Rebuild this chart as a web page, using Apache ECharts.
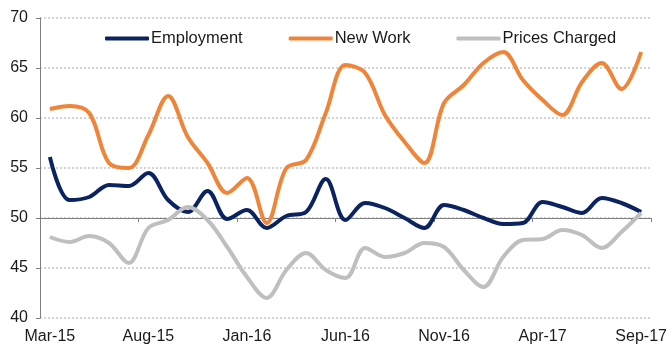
<!DOCTYPE html>
<html>
<head>
<meta charset="utf-8">
<script src="https://cdn.jsdelivr.net/npm/echarts@6/dist/echarts.min.js"></script>
<style>
  html, body { margin: 0; padding: 0; background: #fff; }
  #chart { width: 672px; height: 351px; }
</style>
</head>
<body>
<div id="chart"></div>
<script>
// monthly, Mar-15 .. Sep-17
const months = [
  'Mar-15', 'Apr-15', 'May-15', 'Jun-15', 'Jul-15', 'Aug-15', 'Sep-15', 'Oct-15', 'Nov-15', 'Dec-15',
  'Jan-16', 'Feb-16', 'Mar-16', 'Apr-16', 'May-16', 'Jun-16', 'Jul-16', 'Aug-16', 'Sep-16', 'Oct-16',
  'Nov-16', 'Dec-16', 'Jan-17', 'Feb-17', 'Mar-17', 'Apr-17', 'May-17', 'Jun-17', 'Jul-17', 'Aug-17',
  'Sep-17'
]

const employment = [
  56.1, 51.8, 52.1, 53.3, 53.2, 54.5, 51.8, 50.6, 52.7, 49.9,
  50.8, 49.0, 50.2, 50.6, 53.9, 49.8, 51.5, 51.0, 50.0, 49.0,
  51.3, 50.8, 50.0, 49.4, 49.5, 51.6, 51.1, 50.5, 52.0, 51.5,
  50.6
]

const newWork = [
  60.9, 61.2, 60.5, 55.5, 55.0, 58.3, 62.2, 58.1, 55.5, 52.5,
  54.0, 49.5, 55.0, 55.8, 60.5, 65.3, 64.5, 60.3, 57.6, 55.5,
  61.5, 63.3, 65.5, 66.6, 63.8, 61.8, 60.3, 63.6, 65.5, 62.9,
  66.6
]

const pricesCharged = [
  48.1, 47.6, 48.2, 47.5, 45.5, 49.0, 49.8, 51.1, 49.8, 47.1,
  44.1, 42.0, 44.8, 46.5, 44.8, 44.0, 47.0, 46.1, 46.5, 47.5,
  47.1, 44.8, 43.1, 46.1, 47.8, 47.9, 48.8, 48.3, 47.0, 48.6,
  50.5
]

const font = 'Liberation Sans, Arial, sans-serif'

const chart = echarts.init(document.getElementById('chart'))

const lineSeries = (name, data, color) => ({
  name: name,
  type: 'line',
  data: data,
  smooth: 0.35,
  showSymbol: false,
  symbol: 'none',
  lineStyle: { color: color, width: 4 },
  itemStyle: { color: color },
  xAxisIndex: 0,
  yAxisIndex: 0
})

chart.setOption({
  animation: false,
  textStyle: { fontFamily: font },
  grid: { left: 40, right: 21, top: 18, bottom: 33 },
  legend: {
    left: 100,
    top: 25,
    icon: 'roundRect',
    itemWidth: 44,
    itemHeight: 4,
    itemGap: 46,
    textStyle: { fontSize: 16.5, color: '#1a1a1a', fontFamily: font, padding: [0, 0, 0, -3] },
    data: ['Employment', 'New Work', 'Prices Charged']
  },
  xAxis: [
    {
      type: 'category',
      data: months,
      boundaryGap: true,
      axisLine: { show: false },
      axisTick: { show: false },
      axisLabel: { interval: 4, margin: 11, fontSize: 16, color: '#1a1a1a', fontFamily: font }
    },
    {
      // axis line crossing at 50
      type: 'category',
      data: months,
      position: 'bottom',
      offset: -100,
      boundaryGap: true,
      axisLine: { show: true, lineStyle: { color: '#7f7f7f', width: 1 } },
      axisTick: { show: true, interval: 4, length: 4, lineStyle: { color: '#7f7f7f' } },
      axisLabel: { show: false }
    }
  ],
  yAxis: {
    type: 'value',
    min: 40,
    max: 70,
    interval: 5,
    axisLine: { show: true, lineStyle: { color: '#7f7f7f', width: 1 } },
    axisTick: { show: true, length: 4, lineStyle: { color: '#7f7f7f' } },
    axisLabel: { margin: 12, fontSize: 16, color: '#1a1a1a', fontFamily: font },
    splitLine: { show: true, lineStyle: { color: '#c6c6c6', width: 1.5, type: [2, 2] } }
  },
  series: [
    lineSeries('Employment', employment, '#0b2360'),
    lineSeries('New Work', newWork, '#f0853a'),
    lineSeries('Prices Charged', pricesCharged, '#bfbfbf')
  ]
})
</script>
</body>
</html>
